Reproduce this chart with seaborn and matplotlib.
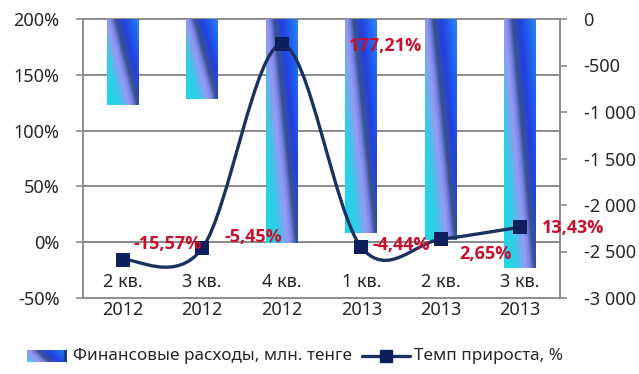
import numpy as np
import matplotlib
matplotlib.use("Agg")
import matplotlib.pyplot as plt
from matplotlib.path import Path
from matplotlib.patches import PathPatch, Rectangle
from matplotlib.lines import Line2D
from matplotlib.colors import LinearSegmentedColormap, Normalize
from matplotlib.ticker import FuncFormatter
import seaborn as sns

# данные
quarters = ["2 кв.\n2012", "3 кв.\n2012", "4 кв.\n2012", "1 кв.\n2013", "2 кв.\n2013", "3 кв.\n2013"]
expenses = [-925, -862, -2405, -2300, -2378, -2680]        # Финансовые расходы, млн. тенге
growth = [-15.57, -5.45, 177.21, -4.44, 2.65, 13.43]       # Темп прироста, %
growth_labels = ["-15,57%", "-5,45%", "177,21%", "-4,44%", "2,65%", "13,43%"]
label_offsets = [(45, 16), (51, 11), (104, -2), (40, 2), (45, -15), (53, -1)]  # пиксели

sns.set_style("white")
plt.rcParams['font.family'] = ['Noto Sans', 'DejaVu Sans']
plt.rcParams['axes.unicode_minus'] = False

GRID = "#8c8c8c"
NAVY = "#1b3260"
RED = "#c8102e"

# градиент столбцов (как заливка в Excel)
grad_cmap = LinearSegmentedColormap.from_list("bars", [
    (0.000, "#1ed8e4"),
    (0.235, "#34ccea"),
    (0.412, "#9898f2"),
    (0.482, "#7886e8"),
    (0.559, "#3a5290"),
    (0.706, "#2242e2"),
    (0.853, "#2062ee"),
    (1.000, "#2a88f2"),
])
SLANT = 0.7
grad_norm = Normalize(-SLANT, 1.0)


def gradient_image(w=60, h=240, slant=SLANT):
    u = np.linspace(0, 1, w)
    d = np.linspace(0, 1, h)
    t = u[None, :] - slant * d[:, None]
    return grad_cmap(grad_norm(t))


def smooth_path(xs, ys):
    # сглаженная линия как в Excel (кривые Безье через точки)
    P = np.column_stack([xs, ys]).astype(float)
    n = len(P)
    verts = [P[0]]
    codes = [Path.MOVETO]
    for i in range(n - 1):
        p_prev = P[max(i - 1, 0)]
        p0, p1 = P[i], P[i + 1]
        p_next = P[min(i + 2, n - 1)]
        verts += [p0 + (p1 - p_prev) / 6, p1 - (p_next - p0) / 6, p1]
        codes += [Path.CURVE4] * 3
    return Path(verts, codes)


fig = plt.figure(figsize=(6.39, 3.74), dpi=100)
ax = fig.add_axes([83 / 639, 1 - 298 / 374, 477 / 639, 279 / 374])
ax2 = ax.twinx()

# столбцы (правая ось)
sns.barplot(x=quarters, y=expenses, ax=ax2, width=0.4, color="#2a44e4", errorbar=None)
img = gradient_image()
for p in ax2.patches:
    x0, y0 = p.get_x(), p.get_y()
    w, h = p.get_width(), p.get_height()
    top, bottom = max(y0, y0 + h), min(y0, y0 + h)
    p.set_facecolor("none")
    p.set_edgecolor("none")
    im = ax2.imshow(img, extent=[x0, x0 + w, bottom, top], aspect="auto",
                    origin="upper", interpolation="bilinear", zorder=2)
    im.set_clip_path(p)

# линия темпа прироста (левая ось), рисуется поверх столбцов
xs = np.arange(len(growth))
line = PathPatch(smooth_path(xs, growth), fill=False, edgecolor=NAVY, lw=2.4,
                 transform=ax.transData, zorder=4, capstyle="round")
ax2.add_patch(line)
sns.scatterplot(x=xs, y=growth, ax=ax2, marker="s", s=95, color="#0f1f5c",
                edgecolor="#0f1f5c", linewidth=0, transform=ax.transData, zorder=5,
                legend=False)

for i, (g, lab, off) in enumerate(zip(growth, growth_labels, label_offsets)):
    ax2.annotate(lab, xy=(i, g), xycoords=ax.transData, xytext=off,
                 textcoords="offset pixels", ha="center", va="center",
                 color=RED, fontsize=13, fontweight="bold", zorder=6,
                 family=["Open Sans", "Liberation Sans", "DejaVu Sans"])

# оси
ax.set_xlim(-0.5, len(quarters) - 0.5)
ax.set_ylim(-50, 200)
ax.set_yticks([-50, 0, 50, 100, 150, 200])
ax.yaxis.set_major_formatter(FuncFormatter(lambda v, _: f"{int(v)}%"))
ax2.set_ylim(-3000, 0)
ax2.set_yticks(np.arange(-3000, 1, 500))
ax2.yaxis.set_major_formatter(FuncFormatter(lambda v, _: f"{int(v):,}".replace(",", " ")))
ax2.set_xlim(-0.5, len(quarters) - 0.5)

ax.set_xticks(xs)
ax.set_xticklabels(quarters)
ax.set_xticks(np.arange(0.5, len(quarters) - 0.5, 1), minor=True)
ax.set_xlabel("")
ax.set_ylabel("")
ax2.set_xlabel("")
ax2.set_ylabel("")

ax.yaxis.grid(True, color=GRID, lw=1.4)
ax.xaxis.grid(False)
for gl in ax.get_ygridlines():
    gl.set_clip_on(False)

ax.spines["bottom"].set_position(("data", 0))
ax.spines["bottom"].set_color(GRID)
ax.spines["left"].set_color(GRID)
ax.spines["bottom"].set_linewidth(1.4)
ax.spines["left"].set_linewidth(1.4)
ax.spines["top"].set_visible(False)
ax.spines["right"].set_visible(False)
for s in ["left", "top", "bottom"]:
    ax2.spines[s].set_visible(False)
ax2.spines["right"].set_color(GRID)
ax2.spines["right"].set_linewidth(1.4)

ax.tick_params(axis="x", which="major", length=0, pad=22, labelsize=13)
ax.tick_params(axis="x", which="minor", length=4, width=1.2, color=GRID, direction="out")
ax.tick_params(axis="y", length=5, width=1.2, color=GRID, pad=12, labelsize=13)
ax2.tick_params(axis="y", length=5, width=1.2, color=GRID, pad=12, labelsize=13)
for t in ax.xaxis.get_majorticklabels():
    t.set_linespacing(1.7)

# легенда
lax = fig.add_axes([27 / 639, 1 - 362 / 374, 40 / 639, 12 / 374])
lax.imshow(gradient_image(80, 24, 0.3), aspect="auto", extent=[0, 1, 0, 1])
lax.add_patch(Rectangle((0.93, 0), 0.07, 1, color="#1a3a9a"))
lax.set_xlim(0, 1)
lax.set_ylim(0, 1)
lax.axis("off")
fig.text(73 / 639, 1 - 356 / 374, "Финансовые расходы, млн. тенге", fontsize=12.3,
         va="center", ha="left")
fig.add_artist(Line2D([362 / 639, 410 / 639], [1 - 356 / 374] * 2, color=NAVY, lw=2.4,
                      transform=fig.transFigure))
fig.add_artist(Line2D([386 / 639], [1 - 356 / 374], color="#0f1f5c", marker="s",
                      markersize=8, lw=0, transform=fig.transFigure))
fig.text(414 / 639, 1 - 356 / 374, "Темп прироста, %", fontsize=12.3, va="center", ha="left")

fig.savefig("out.png", dpi=100)
